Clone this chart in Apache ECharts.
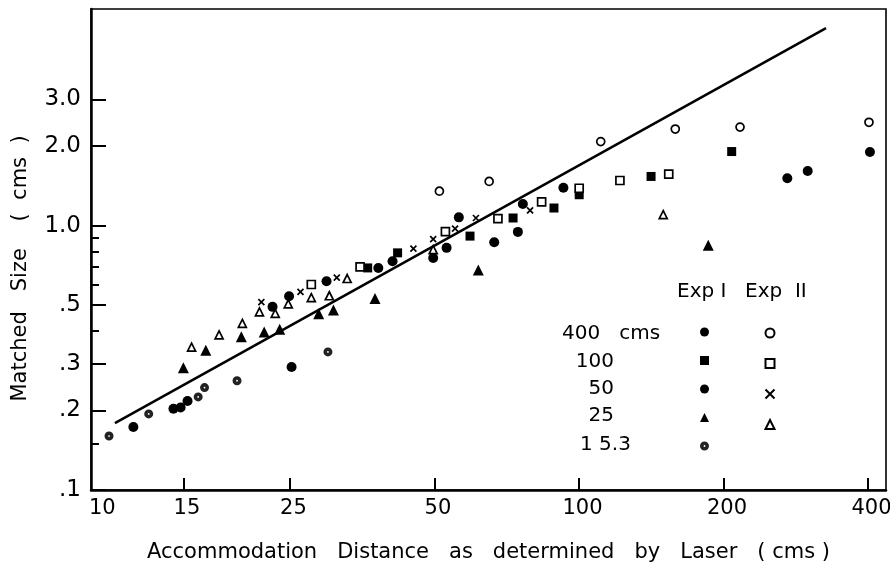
<!DOCTYPE html>
<html>
<head>
<meta charset="utf-8">
<title>Matched Size vs Accommodation Distance</title>
<style>
html, body { margin: 0; padding: 0; background: #fff; }
#main { width: 890px; height: 568px; }
</style>
</head>
<body>
<div id="main"></div>
<script src="https://cdn.jsdelivr.net/npm/echarts@6.0.0/dist/echarts.min.js"></script>
<script>
// axis ranges (cms), both axes logarithmic
var xMin = 9.63, xMax = 436;
var yMin = 0.1, yMax = 6.6;
var xLabelValues = [10, 15, 25, 50, 100, 200, 400];
var xTickValues = [15, 25, 50, 100, 200, 400];
var yLabelValues = [0.1, 0.2, 0.3, 0.5, 1, 2, 3];
var yLabelTexts = ['.1', '.2', '.3', '.5', '1.0', '2.0', '3.0'];
var yMinorTicks = [0.15, 0.4, 0.6, 0.7, 0.8, 0.9];

// fitted line end points
var fitLine = [[10.8, 0.179], [327, 5.59]];

// [distance, matched size]
var exp1_400 = [[271.6, 1.51], [299.5, 1.61], [403.7, 1.90]];
var exp2_400 = [[51.2, 1.35], [65.0, 1.47], [111.0, 2.08], [158.7, 2.32], [216.5, 2.36], [401.8, 2.46]];
var exp1_100 = [[36.3, 0.692], [41.9, 0.789], [59.3, 0.913], [72.9, 1.069], [88.7, 1.166], [100.1, 1.309], [141.3, 1.535], [208, 1.907]];
var exp2_100 = [[27.7, 0.599], [35.0, 0.698], [52.7, 0.949], [67.8, 1.063], [83.6, 1.229], [100.1, 1.385], [121.7, 1.482], [153.8, 1.567]];
var exp1_50 = [[11.8, 0.173], [14.3, 0.203], [14.8, 0.205], [15.3, 0.217], [25.2, 0.292], [23.0, 0.493], [24.9, 0.541], [29.8, 0.616], [38.2, 0.692], [40.9, 0.733], [49.7, 0.755], [53.0, 0.824], [56.2, 1.075], [66.6, 0.865], [74.6, 0.947], [76.4, 1.208], [92.8, 1.391]];
var exp2_50 = [[21.8, 0.514], [26.3, 0.562], [31.3, 0.636], [45.2, 0.819], [49.7, 0.889], [55.2, 0.974], [61.0, 1.069], [79.1, 1.142]];
var exp1_25 = [[15.0, 0.290], [16.7, 0.338], [19.8, 0.380], [22.1, 0.396], [23.8, 0.406], [28.7, 0.464], [30.8, 0.480], [37.6, 0.530], [61.7, 0.679], [185.9, 0.843]];
var exp2_25 = [[15.6, 0.347], [17.8, 0.386], [19.9, 0.427], [21.6, 0.472], [23.3, 0.466], [24.8, 0.506], [27.7, 0.534], [30.2, 0.543], [32.9, 0.631], [49.7, 0.812], [149.8, 1.10]];
var exp1_153 = [[10.5, 0.160], [12.7, 0.194], [16.1, 0.225], [16.6, 0.244], [19.4, 0.259], [30.0, 0.333]];

var FONT = 'DejaVu Sans';
var CROSS = 'path://M0,0L10,10M10,0L0,10';
var DOT_CIRCLE = 'path://M5,0A5,5,0,1,1,5,10A5,5,0,1,1,5,0ZM5,4A1,1,0,1,0,5,6A1,1,0,1,0,5,4Z';

function lg(v) { return Math.log10(v); }
function toLog(arr) { return arr.map(function (p) { return [lg(p[0]), lg(p[1])]; }); }

function scatter(name, data, symbol, size, hollow) {
	return {
		name: name,
		type: 'scatter',
		data: toLog(data),
		symbol: symbol,
		symbolSize: size,
		z: 3,
		itemStyle: hollow
			? { color: '#fff', borderColor: '#000', borderWidth: 1.7, opacity: 1 }
			: { color: '#000', borderColor: '#000', borderWidth: 0, opacity: 1 }
	};
}

var series = [
	{
		name: 'fit',
		type: 'line',
		data: toLog(fitLine),
		symbol: 'none',
		lineStyle: { color: '#000', width: 2.5 },
		z: 2
	},
	scatter('400 I', exp1_400, 'circle', 10, false),
	scatter('100 I', exp1_100, 'rect', 9, false),
	scatter('50 I', exp1_50, 'circle', 10, false),
	scatter('25 I', exp1_25, 'triangle', 11, false),
	scatter('15.3 I', exp1_153, DOT_CIRCLE, 9, false),
	scatter('400 II', exp2_400, 'circle', 8, true),
	scatter('100 II', exp2_100, 'rect', 8, true),
	scatter('50 II', exp2_50, CROSS, 6, true),
	scatter('25 II', exp2_25, 'triangle', 8, true)
];
series[5].itemStyle.color = '#222';

function legendCol(names, left) {
	return {
		data: names,
		left: left,
		top: 327.5,
		orient: 'vertical',
		padding: 0,
		itemWidth: 9,
		itemHeight: 9,
		itemGap: 19.5,
		selectedMode: false,
		formatter: function () { return ''; },
		textStyle: { fontSize: 1 }
	};
}

function label(text, x, y, align) {
	return {
		type: 'text',
		x: x,
		y: y,
		style: {
			text: text,
			fill: '#000',
			font: '20px "' + FONT + '"',
			align: align,
			textAlign: align,
			verticalAlign: 'middle',
			textVerticalAlign: 'middle'
		}
	};
}

var option = {
	backgroundColor: '#fff',
	animation: false,
	grid: {
		left: 91, right: 4, top: 9, bottom: 78,
		outerBoundsMode: 'none',
		containLabel: false,
		show: true, borderColor: '#000', borderWidth: 1.6
	},
	xAxis: {
		type: 'value',
		min: lg(xMin),
		max: lg(xMax),
		axisLine: { onZero: false, lineStyle: { color: '#000', width: 2.5 } },
		axisTick: {
			inside: true, length: 12, customValues: xTickValues.map(lg),
			lineStyle: { color: '#000', width: 2 }
		},
		axisLabel: {
			customValues: xLabelValues.map(lg),
			margin: 8,
			padding: [0, 0, 0, 7],
			color: '#000',
			fontFamily: FONT,
			fontSize: 21,
			formatter: function (v) { return String(Math.round(Math.pow(10, v))); }
		},
		splitLine: { show: false },
		name: 'Accommodation   Distance   as   determined   by   Laser   ( cms )',
		nameLocation: 'middle',
		nameGap: 52,
		nameTextStyle: { color: '#000', fontFamily: FONT, fontSize: 21 }
	},
	yAxis: [{
		type: 'value',
		min: lg(yMin),
		max: lg(yMax),
		axisLine: { onZero: false, lineStyle: { color: '#000', width: 2.5 } },
		axisTick: {
			inside: true, length: 15, customValues: yLabelValues.map(lg),
			lineStyle: { color: '#000', width: 2 }
		},
		axisLabel: {
			customValues: yLabelValues.map(lg),
			margin: 10,
			color: '#000',
			fontFamily: FONT,
			fontSize: 23,
			formatter: function (v) {
				for (var i = 0; i < yLabelValues.length; i++) {
					if (Math.abs(lg(yLabelValues[i]) - v) < 1e-6) return yLabelTexts[i];
				}
				return '';
			}
		},
		splitLine: { show: false },
		name: 'Matched   Size    (  cms  )',
		nameLocation: 'middle',
		nameGap: 60,
		nameTextStyle: { color: '#000', fontFamily: FONT, fontSize: 21, padding: [0, 38, 0, 0] }
	}, {
		type: 'value',
		position: 'left',
		min: lg(yMin),
		max: lg(yMax),
		axisLine: { show: false, onZero: false },
		axisTick: {
			inside: true, length: 8, customValues: yMinorTicks.map(lg),
			lineStyle: { color: '#000', width: 2 }
		},
		axisLabel: { show: false },
		splitLine: { show: false }
	}],
	legend: [
		legendCol(['400 I', '100 I', '50 I', '25 I', '15.3 I'], 700),
		legendCol(['400 II', '100 II', '50 II', '25 II'], 764.5)
	],
	graphic: [
		label('Exp I', 677, 292, 'left'),
		label('Exp  II', 745, 292, 'left'),
		label('400   cms', 562, 334, 'left'),
		label('100', 614, 362, 'right'),
		label('50', 614, 389, 'right'),
		label('25', 614, 416, 'right'),
		label('1 5.3', 580, 445, 'left')
	],
	series: series
};

var myChart = echarts.init(document.getElementById('main'));
myChart.setOption(option);
</script>
</body>
</html>
